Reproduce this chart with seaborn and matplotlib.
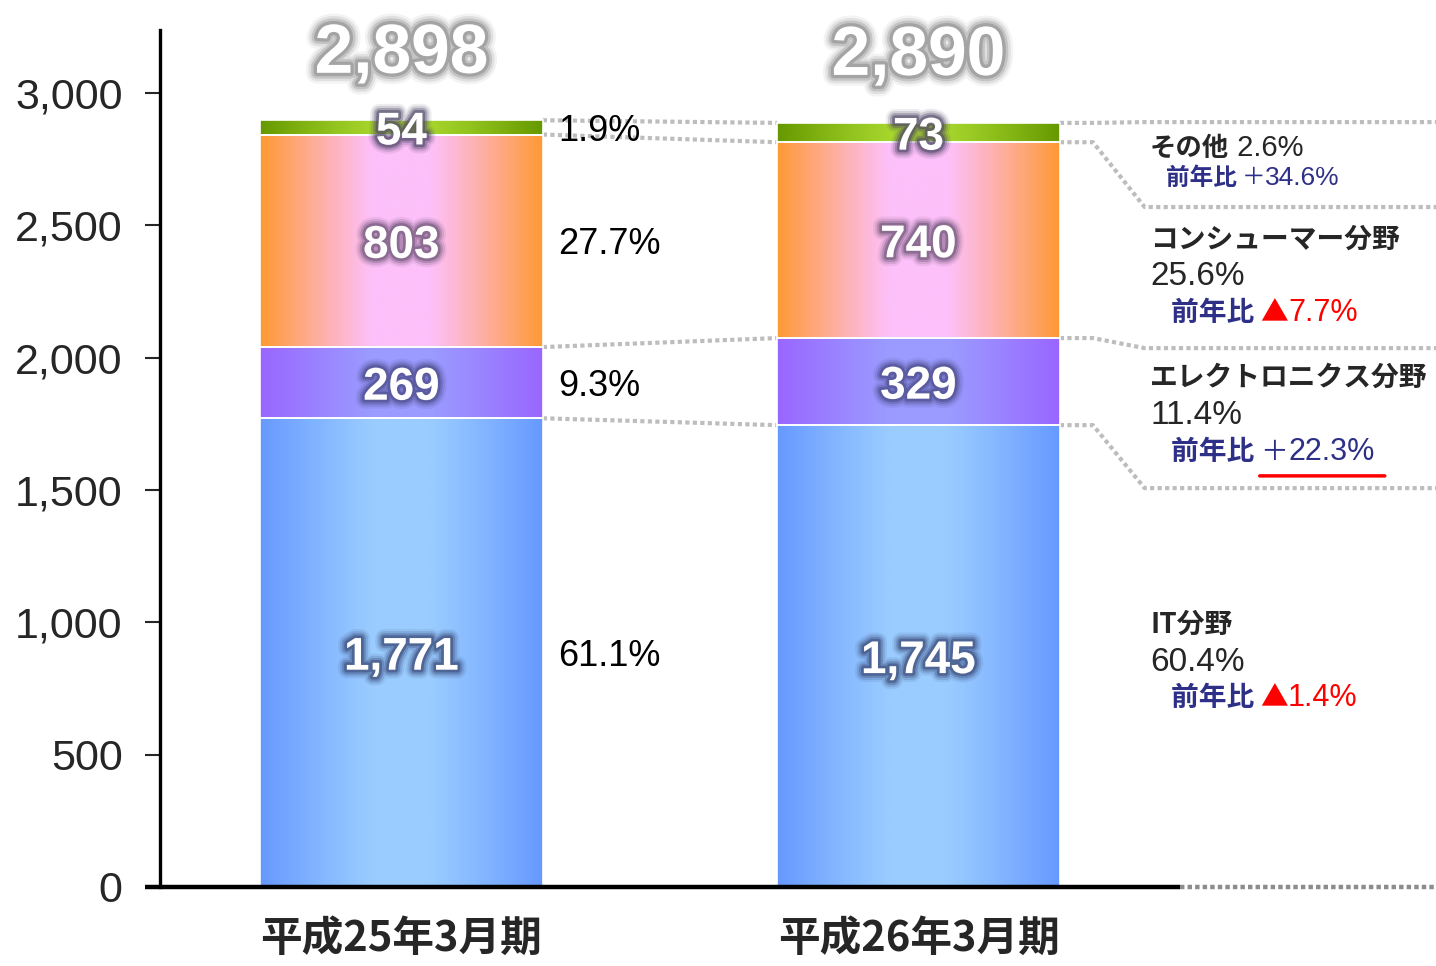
import numpy as np
import pandas as pd
import seaborn as sns
import matplotlib.pyplot as plt
import matplotlib.patheffects as pe
from matplotlib.colors import to_rgb

## data
periods = ['平成25年3月期', '平成26年3月期']
it_sales = [1771, 1745]
elec_sales = [269, 329]
cons_sales = [803, 740]
other_sales = [54, 73]
totals = [2898, 2890]

seg_keys = ['IT', 'Elec', 'Cons', 'Other']
seg_names = ['IT分野', 'エレクトロニクス分野', 'コンシューマー分野', 'その他']
share_prev = ['61.1%', '9.3%', '27.7%', '1.9%']
share_curr = ['60.4%', '11.4%', '25.6%', '2.6%']
yoy_sign = ['▲', '＋', '▲', '＋']
yoy_value = ['1.4%', '22.3%', '7.7%', '34.6%']
yticks = [0, 500, 1000, 1500, 2000, 2500, 3000]

## styles
edge_cols = ['#6699FF', '#9966FF', '#FF9933', '#669900']
center_cols = ['#9ACCFF', '#9B9BFF', '#FDC0FA', '#A6D62C']
glow_cols = ['#3B4B78', '#4A4A88', '#6E5576', '#4F4766']
navy = '#2E3087'
dot_grey = '#BDBDBD'
# where the right-hand guides end (value units) and where the note blocks sit
guide_end = [1507, 2036, 2569, 2890]
note_y = [(990, 850, 714), (1923, 1780, 1644), (2445, 2305, 2169), (2792, None, 2679)]

sns.set_style('white')
plt.rcParams['font.family'] = ['Liberation Sans', 'Noto Sans CJK JP', 'DejaVu Sans']
JP = ['Noto Sans CJK JP', 'DejaVu Sans']

df = pd.DataFrame({'period': periods, 'IT': it_sales, 'Elec': elec_sales,
                   'Cons': cons_sales, 'Other': other_sales})

fig = plt.figure(figsize=(14.36, 9.66), dpi=100)
ax = fig.add_axes([160 / 1436, 79 / 966, 1276 / 1436, 857 / 966])


def gradient_fill(ax, patch, edge, center):
    x0, y0 = patch.get_x(), patch.get_y()
    w, h = patch.get_width(), patch.get_height()
    t = np.abs(np.linspace(-1, 1, 300))
    m = np.clip((t - 0.2) / 0.8, 0, 1) ** 1.1
    c0, c1 = np.array(to_rgb(center)), np.array(to_rgb(edge))
    img = c0 + m[:, None] * (c1 - c0)
    im = ax.imshow(img[None], extent=(x0, x0 + w, y0, y0 + h), aspect='auto',
                   origin='lower', interpolation='bilinear', zorder=0.9)
    im.set_clip_path(patch)
    patch.set_facecolor('none')


def glow(color, scale=1.0):
    effects = [pe.Stroke(linewidth=lw * scale, foreground=color, alpha=a)
               for lw, a in [(13, 0.1), (10, 0.18), (7, 0.32), (4, 0.55)]]
    return effects + [pe.Normal()]


## stacked bars
bottoms = np.zeros(len(periods))
seg_patches = []
for i, key in enumerate(seg_keys):
    n0 = len(ax.patches)
    sns.barplot(data=df, x='period', y=key, bottom=bottoms, width=0.547,
                color=edge_cols[i], edgecolor='white', linewidth=1.2,
                errorbar=None, ax=ax)
    new = ax.patches[n0:]
    for p in new:
        gradient_fill(ax, p, edge_cols[i], center_cols[i])
    seg_patches.append(new)
    for j, p in enumerate(new):
        ax.text(p.get_x() + p.get_width() / 2, p.get_y() + p.get_height() / 2,
                f'{int(df[key][j]):,}', ha='center', va='center_baseline',
                color='white', fontsize=33, fontweight='bold', zorder=5,
                path_effects=glow(glow_cols[i]))
    bottoms = bottoms + df[key].values

## totals on top
for j, tot in enumerate(totals):
    p = seg_patches[-1][j]
    ax.annotate(f'{tot:,}', xy=(p.get_x() + p.get_width() / 2, tot),
                xytext=(0, 52), textcoords='offset points', ha='center',
                va='center_baseline', color='white', fontsize=50, fontweight='bold',
                zorder=5, path_effects=glow('#8A8A8A', 1.2))

## shares of first period
for i in range(4):
    p = seg_patches[i][0]
    ax.text(p.get_x() + p.get_width() + 0.03, p.get_y() + p.get_height() / 2,
            share_prev[i], ha='left', va='center_baseline', fontsize=26, color='black')

## dotted links between the bars
dot_kw = dict(color=dot_grey, lw=3, linestyle=(0, (1, 0.8)), zorder=0.5,
              solid_capstyle='butt', dash_capstyle='butt')
for i in range(4):
    p1, p2 = seg_patches[i]
    ax.plot([p1.get_x() + p1.get_width(), p2.get_x()],
            [p1.get_y() + p1.get_height(), p2.get_y() + p2.get_height()], **dot_kw)

xmax = 2.001
for i in range(4):
    p2 = seg_patches[i][1]
    xr = p2.get_x() + p2.get_width()
    top = p2.get_y() + p2.get_height()
    ax.plot([xr, xr + 0.064, xr + 0.164, xmax],
            [top, top, guide_end[i], guide_end[i]], clip_on=False, **dot_kw)

## notes on the right
note_x = 1.448
for i in range(4):
    y_name, y_share, y_yoy = note_y[i]
    if y_share is None:
        t = ax.text(note_x, y_name, seg_names[i], fontsize=19, fontweight='bold',
                    family=JP, va='center', ha='left')
        ax.annotate(' ' + share_curr[i], xy=(1, 0.5), xycoords=t, va='center',
                    ha='left', fontsize=21)
        fs_yoy = 17
        x_yoy = note_x + 0.03
    else:
        ax.text(note_x, y_name, seg_names[i], fontsize=20, fontweight='bold',
                family=JP, va='center', ha='left')
        ax.text(note_x, y_share, share_curr[i], fontsize=24, va='center', ha='left')
        fs_yoy = 20
        x_yoy = note_x + 0.04
    t1 = ax.text(x_yoy, y_yoy, '前年比 ', fontsize=fs_yoy, fontweight='bold',
                 family=JP, color=navy, va='center', ha='left')
    val_col = 'red' if yoy_sign[i] == '▲' else navy
    ts = ax.annotate(yoy_sign[i], xy=(1, 0.5), xycoords=t1, va='center', ha='left',
                     fontsize=fs_yoy, family=JP, color=val_col)
    t2 = ax.annotate(yoy_value[i], xy=(1, 0.5), xycoords=ts, va='center', ha='left',
                     fontsize=fs_yoy + 2, color=val_col)
    if i == 1:
        ax.annotate('', xy=(-0.02, -0.3), xycoords=ts, xytext=(1.12, -0.3),
                    textcoords=t2,
                    arrowprops=dict(arrowstyle='-', color='red', lw=2.5,
                                    shrinkA=0, shrinkB=0))

## axes
ax.set_xlim(-0.467, xmax)
ax.set_ylim(0, 3238)
ax.set_yticks(yticks)
ax.set_yticklabels([f'{v:,}' for v in yticks], fontsize=31)
ax.tick_params(axis='y', length=11, width=1.5, pad=16, left=True, direction='out')
ax.tick_params(axis='x', length=0, pad=22)
for lbl in ax.get_xticklabels():
    lbl.set_family(JP)
    lbl.set_fontsize(30)
    lbl.set_fontweight('bold')
ax.set_xlabel('')
ax.set_ylabel('')
for s in ['top', 'right', 'bottom']:
    ax.spines[s].set_visible(False)
ax.spines['left'].set_linewidth(2.4)
ax.spines['left'].set_color('black')

yt = ax.get_yaxis_transform()
ax.plot([-15 / 1276, 1020 / 1276], [0, 0], transform=yt, color='black', lw=3.2,
        clip_on=False, zorder=3, solid_capstyle='butt')
ax.plot([1020 / 1276, 1.0], [0, 0], transform=yt, color='#8C8C8C', lw=3.2,
        linestyle=(0, (1, 0.7)), clip_on=False, zorder=3)

fig.savefig('out.png', dpi=100)
